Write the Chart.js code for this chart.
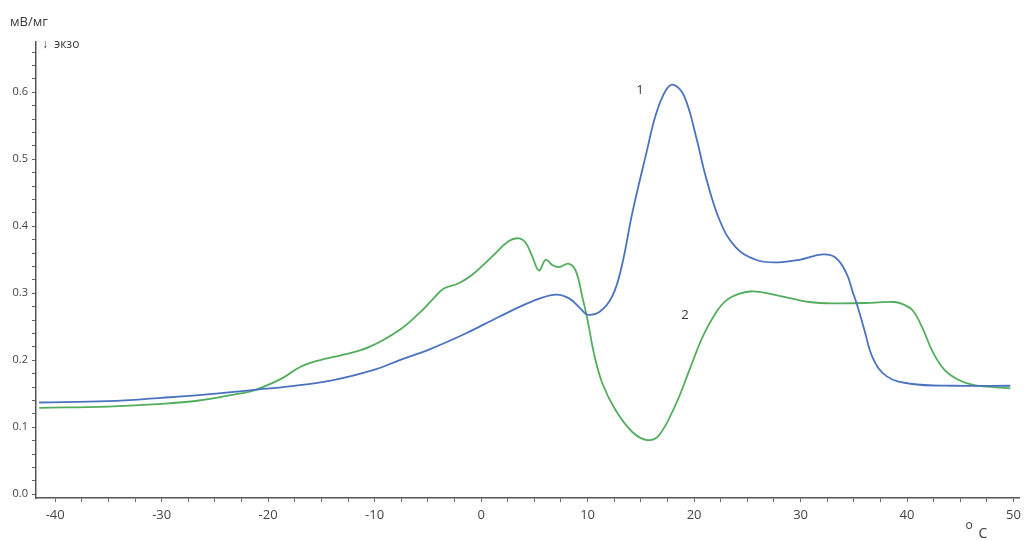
<!DOCTYPE html>
<html>
<head>
<meta charset="utf-8">
<script src="https://cdn.jsdelivr.net/npm/chart.js@4"></script>
<style>
  html, body { margin: 0; padding: 0; background: #fff; }
  #wrap { width: 1026px; height: 541px; position: relative; }
</style>
</head>
<body>
<div id="wrap"><canvas id="dsc"></canvas></div>
<script>
// DSC curves: temperature (°C) and heat flow (mW/mg)
const tempCurve1 = [-41.5, -35, -30, -26.5, -21.2, -18, -14, -10, -7.7, -4.9, -1.45, 1.7, 4.8, 7.0, 8.3, 9.4, 10.0, 11.1, 12.3, 13.2, 14.2, 15.5, 16.4, 17.35, 18.1, 19.1, 20.2, 21.1, 22.4, 23.9, 25.8, 27.5, 29.9, 32.1, 33.3, 34.3, 34.9, 35.4, 36.0, 36.8, 38.1, 40.3, 44.4, 49.7];
const heatCurve1 = [0.137, 0.139, 0.144, 0.148, 0.156, 0.161, 0.170, 0.186, 0.200, 0.216, 0.240, 0.265, 0.288, 0.298, 0.292, 0.276, 0.268, 0.272, 0.295, 0.340, 0.420, 0.508, 0.566, 0.603, 0.611, 0.593, 0.533, 0.474, 0.409, 0.369, 0.350, 0.346, 0.350, 0.358, 0.353, 0.330, 0.302, 0.278, 0.245, 0.203, 0.176, 0.165, 0.162, 0.162];

const tempCurve2 = [-41.5, -35, -30, -26.5, -23.5, -21.2, -18.7, -17, -15.2, -13, -10.5, -7.7, -5.84, -4.6, -3.5, -2.1, -0.8, 1.05, 2.6, 3.56, 4.2, 4.8, 5.44, 6.07, 6.7, 7.3, 8.26, 8.9, 9.5, 10.0, 10.6, 11.4, 12.65, 14.2, 15.6, 16.7, 18.3, 19.55, 20.8, 22.0, 23.0, 24.2, 25.5, 27.5, 30.8, 33.6, 37.0, 38.8, 39.7, 40.5, 41.4, 42.4, 43.5, 44.8, 46.3, 48.2, 49.7];
const heatCurve2 = [0.129, 0.131, 0.135, 0.140, 0.148, 0.156, 0.173, 0.190, 0.200, 0.208, 0.220, 0.245, 0.270, 0.290, 0.307, 0.315, 0.328, 0.355, 0.378, 0.382, 0.375, 0.355, 0.334, 0.350, 0.342, 0.339, 0.344, 0.333, 0.295, 0.260, 0.210, 0.165, 0.125, 0.093, 0.081, 0.088, 0.135, 0.185, 0.235, 0.270, 0.289, 0.299, 0.303, 0.298, 0.287, 0.285, 0.286, 0.287, 0.283, 0.275, 0.250, 0.213, 0.186, 0.171, 0.163, 0.160, 0.158];

// tick positions (major ones carry labels)
const xTickValues = [-40, -37.5, -35, -32.5, -30, -27.5, -25, -22.5, -20, -17.5, -15, -12.5, -10, -7.5, -5, -2.5, 0, 2.5, 5, 7.5, 10, 12.5, 15, 17.5, 20, 22.5, 25, 27.5, 30, 32.5, 35, 37.5, 40, 42.5, 45, 47.5, 50];
const xTickLabels = ['-40', '-30', '-20', '-10', '0', '10', '20', '30', '40', '50'];
const yTickValues = [0, 0.02, 0.04, 0.06, 0.08, 0.1, 0.12, 0.14, 0.16, 0.18, 0.2, 0.22, 0.24, 0.26, 0.28, 0.3, 0.32, 0.34, 0.36, 0.38, 0.4, 0.42, 0.44, 0.46, 0.48, 0.5, 0.52, 0.54, 0.56, 0.58, 0.6, 0.62, 0.64, 0.66];
const yTickLabels = ['0.0', '0.1', '0.2', '0.3', '0.4', '0.5', '0.6'];

// curve numbers placed in data coordinates
const curveNames = ['1', '2'];
const curveNameTemp = [14.93, 19.15];
const curveNameHeat = [0.603, 0.267];

const toPoints = (xs, ys) => xs.map((x, i) => ({ x: x, y: ys[i] }));

const textPlugin = {
  id: 'dscText',
  afterDraw(chart) {
    const ctx = chart.ctx;
    const xs = chart.scales.x, ys = chart.scales.y;
    ctx.save();
    ctx.fillStyle = '#3a3a3a';
    ctx.textBaseline = 'middle';
    ctx.textAlign = 'left';
    ctx.font = '13px "Open Sans", sans-serif';
    ctx.fillText('мВ/мг', 10, 22);
    ctx.font = '12px "Open Sans", sans-serif';
    ctx.fillText('↓  экзо', 42, 45);
    ctx.textAlign = 'center';
    ctx.font = '13px "Open Sans", sans-serif';
    curveNames.forEach((n, i) => {
      ctx.fillText(n, xs.getPixelForValue(curveNameTemp[i]), ys.getPixelForValue(curveNameHeat[i]));
    });
    ctx.font = '12px "Open Sans", sans-serif';
    ctx.fillText('o', 969, 526);
    ctx.font = '14px "Open Sans", sans-serif';
    ctx.fillText('C', 983, 534);
    ctx.restore();
  }
};

new Chart(document.getElementById('dsc'), {
  type: 'line',
  data: {
    datasets: [
      {
        data: toPoints(tempCurve1, heatCurve1),
        borderColor: '#4a72bf',
        borderWidth: 1.8,
        pointRadius: 0,
        tension: 0.4,
        fill: false
      },
      {
        data: toPoints(tempCurve2, heatCurve2),
        borderColor: '#52ad5c',
        borderWidth: 1.8,
        pointRadius: 0,
        tension: 0.4,
        fill: false
      }
    ]
  },
  options: {
    responsive: true,
    maintainAspectRatio: false,
    animation: false,
    events: [],
    layout: { padding: { top: 42, right: 6, left: 0, bottom: 0 } },
    plugins: { legend: { display: false }, tooltip: { enabled: false }, title: { display: false } },
    scales: {
      x: {
        type: 'linear',
        min: -41.8,
        max: 50.55,
        afterBuildTicks(scale) { scale.ticks = xTickValues.map(v => ({ value: v })); },
        afterFit(scale) { scale.height = 43; },
        grid: { drawOnChartArea: false, drawTicks: true, tickLength: 4, color: '#666', lineWidth: 1 },
        border: { display: true, color: '#555', width: 1.5 },
        ticks: {
          autoSkip: false,
          maxRotation: 0,
          padding: 5,
          color: '#444',
          font: { family: '"Open Sans", sans-serif', size: 13 },
          callback(v) {
            const lbl = String(v);
            return xTickLabels.includes(lbl) ? lbl : '';
          }
        }
      },
      y: {
        type: 'linear',
        min: -0.0055,
        max: 0.675,
        afterBuildTicks(scale) { scale.ticks = yTickValues.map(v => ({ value: v })); },
        afterFit(scale) { scale.width = 36; },
        grid: { drawOnChartArea: false, drawTicks: true, tickLength: 4, color: '#666', lineWidth: 1 },
        border: { display: true, color: '#555', width: 1.5 },
        ticks: {
          autoSkip: false,
          padding: 4,
          color: '#444',
          font: { family: '"Open Sans", sans-serif', size: 11 },
          callback(v) {
            const lbl = (Math.round(v * 100) / 100).toFixed(2);
            const short = lbl.slice(0, 3);
            return lbl.endsWith('0') && yTickLabels.includes(short) ? short : '';
          }
        }
      }
    }
  },
  plugins: [textPlugin]
});
</script>
</body>
</html>
